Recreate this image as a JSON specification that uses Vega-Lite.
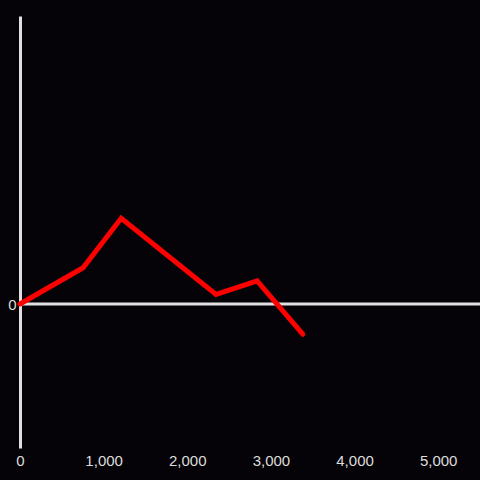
{
  "$schema": "https://vega.github.io/schema/vega-lite/v6.json",
  "width": 460,
  "height": 432,
  "autosize": "none",
  "padding": {"left": 20, "top": 16, "right": 0, "bottom": 32},
  "background": "#050307",
  "config": {
    "view": {"stroke": null},
    "axis": {"labelFont": "Liberation Sans", "labelFontSize": 15, "labelColor": "#dddddd", "grid": false, "ticks": false}
  },
  "data": {
    "values": [
      {"x": 0, "y": 0},
      {"x": 754, "y": 0.252},
      {"x": 1210, "y": 0.595},
      {"x": 2344, "y": 0.067},
      {"x": 2835, "y": 0.16},
      {"x": 3381, "y": -0.21}
    ]
  },
  "layer": [
    {
      "data": {"values": [{"z": 0}]},
      "mark": {"type": "rule", "color": "#e0e0e0", "strokeWidth": 3},
      "encoding": {
        "y": {
          "field": "z", "type": "quantitative",
          "scale": {"domain": [-1, 2], "nice": false},
          "axis": {"title": null, "domain": true, "domainColor": "#e0e0e0", "domainWidth": 3, "values": [0], "format": "d", "labelPadding": 4}
        }
      }
    },
    {
      "mark": {"type": "line", "color": "#ff0000", "strokeWidth": 5, "strokeCap": "round", "strokeJoin": "miter"},
      "encoding": {
        "x": {
          "field": "x", "type": "quantitative",
          "scale": {"domain": [0, 5500], "nice": false},
          "axis": {"title": null, "domain": false, "values": [0, 1000, 2000, 3000, 4000, 5000], "format": ",d", "labelPadding": 5, "labelFlush": false}
        },
        "y": {"field": "y", "type": "quantitative"}
      }
    }
  ]
}
